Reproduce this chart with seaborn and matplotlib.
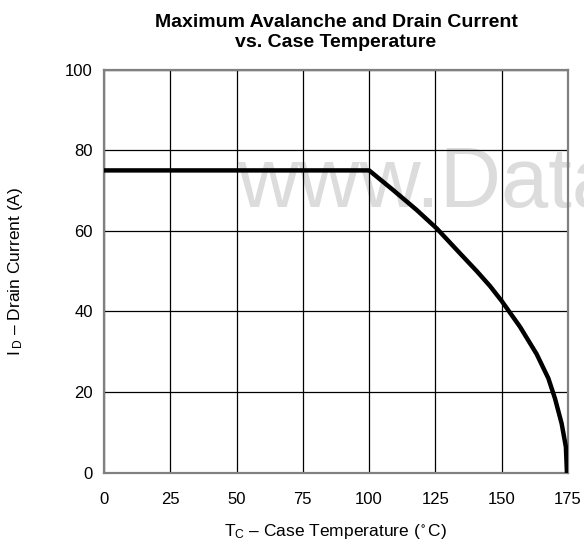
import matplotlib
matplotlib.use("Agg")
import matplotlib.pyplot as plt
import seaborn as sns
import pandas as pd

# Data
case_temp = [0, 25, 50, 75, 100, 109.1, 117.9, 125.5, 134.3, 140.6, 145.6, 150.0,
             156.9, 163.2, 167.6, 170.1, 172.6, 174.2, 174.6]
drain_current = [75, 75, 75, 75, 75, 70.1, 65.2, 60.6, 54.4, 50.0, 46.3, 42.6,
                 36.2, 29.4, 23.4, 18.4, 12.2, 6.4, 0]
x_ticks = [0, 25, 50, 75, 100, 125, 150, 175]
y_ticks = [0, 20, 40, 60, 80, 100]

sns.set_theme(style="white")
plt.rcParams['font.family'] = ['Liberation Sans', 'DejaVu Sans']
plt.rcParams['mathtext.fontset'] = 'custom'
plt.rcParams['mathtext.rm'] = 'Liberation Sans'
plt.rcParams['mathtext.it'] = 'Liberation Sans'
plt.rcParams['text.color'] = 'black'
plt.rcParams['axes.labelcolor'] = 'black'

df = pd.DataFrame({"T": case_temp, "I": drain_current})

fig = plt.figure(figsize=(5.84, 5.47), dpi=100)
ax = fig.add_axes([0.178, 0.1358, 0.7946, 0.7369])
ax.set_axisbelow(True)

# watermark (below grid)
ax.text(237 / 584, 1 - 207 / 547, "www.Data", fontsize=61, color="#dcdcdc",
        ha="left", va="baseline", transform=fig.transFigure,
        clip_on=False, zorder=0.1)

sns.lineplot(data=df, x="T", y="I", ax=ax, color="black", linewidth=3.2,
             solid_capstyle="round", solid_joinstyle="round", zorder=3,
             sort=False)

ax.set_xlim(0, 175)
ax.set_ylim(0, 100)
ax.set_xticks(x_ticks)
ax.set_yticks(y_ticks)
ax.set_xticklabels([str(t) for t in x_ticks], fontsize=12)
ax.set_yticklabels([str(t) for t in y_ticks], fontsize=12)
ax.grid(True, color="black", linewidth=0.9, zorder=0.5)
ax.tick_params(axis="x", length=0, pad=14, colors="black")
ax.tick_params(axis="y", length=0, pad=8, colors="black")
for s in ax.spines.values():
    s.set_color("#808080")
    s.set_linewidth(1.6)

ax.set_xlabel(r"T$_{\mathregular{C}}$ – Case Temperature ($\mathregular{^\circ}$C)",
              fontsize=12.5, labelpad=11, color="black")
ax.set_ylabel(r"I$\,_{\mathregular{D}}$ – Drain Current (A)", fontsize=12.5,
              labelpad=29, color="black")
ax.set_title("Maximum Avalanche and Drain Current\nvs. Case Temperature",
             fontsize=14, fontweight="bold", pad=16, linespacing=1.25, color="black")

fig.savefig("out.png", dpi=100)
